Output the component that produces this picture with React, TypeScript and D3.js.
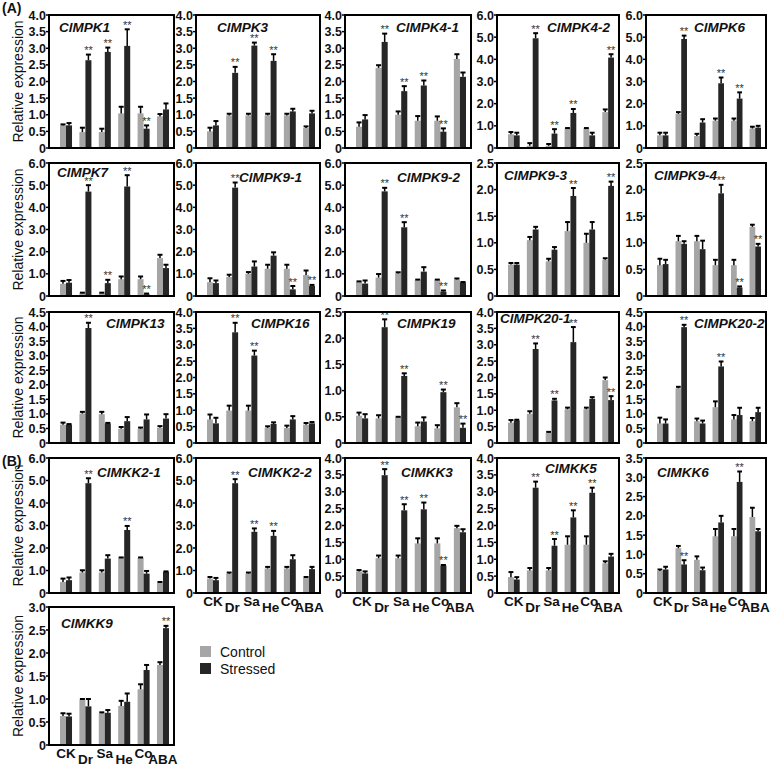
import React from "react";
import * as d3 from "d3";

const categories = ["CK", "Dr", "Sa", "He", "Co", "ABA"];

const geneNames = [
  "ClMPK1", "ClMPK3", "ClMPK4-1", "ClMPK4-2", "ClMPK6",
  "ClMPK7", "ClMPK9-1", "ClMPK9-2", "ClMPK9-3", "ClMPK9-4",
  "ClMPK13", "ClMPK16", "ClMPK19", "ClMPK20-1", "ClMPK20-2",
  "ClMKK2-1", "ClMKK2-2", "ClMKK3", "ClMKK5", "ClMKK6",
  "ClMKK9",
];

const yMaxValues = [4, 4, 4, 6, 6, 6, 6, 6, 2.5, 2.5, 4.5, 4, 2.5, 4, 4.5, 6, 6, 4, 4, 3.5, 3];
const yTickSteps = [0.5, 0.5, 0.5, 1, 1, 1, 1, 1, 0.5, 0.5, 0.5, 0.5, 0.5, 0.5, 0.5, 1, 1, 0.5, 0.5, 0.5, 0.5];

const controlMeans = [
  [0.68, 0.48, 0.48, 1.04, 1.04, 0.95],
  [0.50, 0.98, 0.98, 0.98, 0.98, 0.60],
  [0.64, 2.41, 1.00, 0.82, 0.82, 2.68],
  [0.62, 0.10, 0.10, 0.88, 0.88, 1.62],
  [0.57, 1.54, 0.54, 1.23, 1.23, 0.88],
  [0.55, 0.12, 0.12, 0.76, 0.76, 1.71],
  [0.62, 0.86, 1.00, 1.23, 1.23, 0.95],
  [0.63, 0.83, 1.02, 0.71, 0.71, 0.74],
  [0.59, 1.05, 0.65, 1.22, 1.00, 0.68],
  [0.58, 1.03, 1.03, 0.58, 0.58, 1.30],
  [0.63, 1.01, 0.99, 0.49, 0.49, 0.52],
  [0.72, 0.99, 0.99, 0.46, 0.46, 0.56],
  [0.52, 0.47, 0.49, 0.32, 0.28, 0.68],
  [0.62, 0.89, 0.31, 1.03, 1.03, 1.92],
  [0.67, 1.88, 0.75, 1.23, 0.81, 0.75],
  [0.49, 0.91, 0.91, 1.56, 1.56, 0.45],
  [0.64, 0.86, 0.86, 1.09, 1.09, 0.67],
  [0.64, 1.03, 1.03, 1.47, 1.47, 1.92],
  [0.47, 0.67, 0.67, 1.43, 1.43, 0.88],
  [0.57, 1.16, 0.86, 1.47, 1.47, 1.97],
  [0.63, 0.98, 0.69, 0.85, 1.21, 1.74],
];

const controlErr = [
  [0.03, 0.13, 0.10, 0.20, 0.20, 0.07],
  [0.11, 0.05, 0.05, 0.05, 0.05, 0.05],
  [0.13, 0.08, 0.10, 0.14, 0.13, 0.14],
  [0.10, 0.12, 0.08, 0.02, 0.02, 0.12],
  [0.12, 0.08, 0.10, 0.10, 0.10, 0.08],
  [0.13, 0.03, 0.03, 0.12, 0.12, 0.15],
  [0.18, 0.10, 0.08, 0.18, 0.18, 0.20],
  [0.03, 0.16, 0.05, 0.03, 0.03, 0.05],
  [0.03, 0.06, 0.05, 0.17, 0.17, 0.03],
  [0.12, 0.10, 0.10, 0.10, 0.10, 0.04],
  [0.07, 0.06, 0.08, 0.06, 0.04, 0.06],
  [0.15, 0.15, 0.15, 0.05, 0.07, 0.05],
  [0.06, 0.06, 0.01, 0.07, 0.06, 0.08],
  [0.08, 0.08, 0.03, 0.05, 0.05, 0.08],
  [0.20, 0.05, 0.09, 0.20, 0.15, 0.11],
  [0.15, 0.10, 0.10, 0.02, 0.02, 0.04],
  [0.07, 0.05, 0.05, 0.07, 0.07, 0.04],
  [0.04, 0.08, 0.08, 0.15, 0.15, 0.07],
  [0.15, 0.07, 0.07, 0.25, 0.25, 0.06],
  [0.04, 0.06, 0.09, 0.19, 0.19, 0.24],
  [0.06, 0.02, 0.02, 0.11, 0.11, 0.06],
];

const stressedMeans = [
  [0.68, 2.64, 2.89, 3.07, 0.58, 1.16],
  [0.68, 2.26, 3.08, 2.62, 1.10, 1.04],
  [0.86, 3.19, 1.71, 1.88, 0.49, 2.14],
  [0.57, 4.95, 0.65, 1.58, 0.57, 4.08],
  [0.57, 4.92, 1.15, 2.92, 2.23, 0.92],
  [0.60, 4.71, 0.58, 4.94, 0.08, 1.26],
  [0.58, 4.89, 1.33, 1.82, 0.30, 0.45],
  [0.56, 4.72, 3.10, 1.10, 0.20, 0.61],
  [0.59, 1.25, 0.87, 1.88, 1.25, 2.07],
  [0.60, 0.98, 0.88, 1.93, 0.16, 0.93],
  [0.63, 3.95, 0.67, 0.75, 0.81, 0.84],
  [0.60, 3.38, 2.67, 0.58, 0.72, 0.60],
  [0.47, 2.21, 1.28, 0.41, 0.97, 0.29],
  [0.69, 2.87, 1.30, 3.08, 1.35, 1.31],
  [0.67, 3.98, 0.67, 2.63, 0.96, 1.06],
  [0.57, 4.88, 1.53, 2.80, 0.86, 0.94],
  [0.57, 4.88, 2.72, 2.54, 1.50, 1.06],
  [0.58, 3.49, 2.45, 2.48, 0.81, 1.80],
  [0.40, 3.12, 1.40, 2.24, 2.97, 1.08],
  [0.61, 0.74, 0.59, 1.83, 2.88, 1.60],
  [0.62, 0.84, 0.70, 0.94, 1.63, 2.54],
];

const stressedErr = [
  [0.07, 0.17, 0.13, 0.50, 0.10, 0.18],
  [0.13, 0.18, 0.09, 0.20, 0.08, 0.08],
  [0.13, 0.25, 0.15, 0.15, 0.10, 0.13],
  [0.12, 0.23, 0.20, 0.18, 0.12, 0.15],
  [0.12, 0.15, 0.15, 0.26, 0.28, 0.08],
  [0.12, 0.29, 0.15, 0.51, 0.03, 0.15],
  [0.12, 0.23, 0.23, 0.15, 0.15, 0.05],
  [0.14, 0.16, 0.23, 0.20, 0.05, 0.02],
  [0.03, 0.05, 0.05, 0.15, 0.14, 0.08],
  [0.08, 0.05, 0.16, 0.16, 0.02, 0.05],
  [0.02, 0.18, 0.02, 0.14, 0.17, 0.15],
  [0.17, 0.29, 0.15, 0.05, 0.10, 0.04],
  [0.08, 0.15, 0.05, 0.08, 0.05, 0.08],
  [0.02, 0.17, 0.05, 0.46, 0.05, 0.12],
  [0.14, 0.08, 0.10, 0.17, 0.25, 0.15],
  [0.12, 0.22, 0.15, 0.18, 0.12, 0.02],
  [0.10, 0.18, 0.15, 0.22, 0.18, 0.10],
  [0.06, 0.18, 0.18, 0.20, 0.02, 0.09],
  [0.07, 0.18, 0.20, 0.21, 0.15, 0.08],
  [0.07, 0.11, 0.07, 0.17, 0.27, 0.06],
  [0.06, 0.16, 0.06, 0.18, 0.11, 0.05],
];

const significant = [
  [0, 1, 1, 1, 1, 0],
  [0, 1, 1, 1, 0, 0],
  [0, 1, 1, 1, 1, 0],
  [0, 1, 1, 1, 0, 1],
  [0, 1, 0, 1, 1, 0],
  [0, 1, 1, 1, 1, 0],
  [0, 1, 0, 0, 1, 1],
  [0, 1, 1, 0, 1, 0],
  [0, 0, 0, 1, 0, 1],
  [0, 0, 0, 1, 1, 1],
  [0, 1, 0, 0, 0, 0],
  [0, 1, 1, 0, 0, 0],
  [0, 1, 1, 0, 1, 1],
  [0, 1, 1, 1, 0, 1],
  [0, 1, 0, 1, 0, 0],
  [0, 1, 0, 1, 0, 0],
  [0, 1, 1, 1, 0, 0],
  [0, 1, 1, 1, 1, 0],
  [0, 1, 1, 1, 1, 0],
  [0, 1, 0, 0, 1, 0],
  [0, 0, 0, 0, 0, 1],
];

const seriesNames = ["Control", "Stressed"];

// ---- layout (positions only) ----
const rowTop = [15, 163, 312, 458, 607];
const rowBottom = [148, 296, 443, 593, 745];
const colLeft = [49, 196, 345, 497, 646];
const colRight = [174, 320, 471, 619, 766];
const titleOffset: [number, number][] = [
  [10, 17], [21, 17], [51, 17], [50, 17], [48, 17],
  [8, 14], [43, 19], [52, 19], [7, 17], [8, 17],
  [57, 16], [55, 16], [52, 16], [3, 11], [48, 16],
  [48, 19], [52, 19], [56, 19], [48, 15], [11, 19],
  [12, 21],
];
const xLabelPanels = [16, 17, 18, 19, 20];

const FONT = "'Liberation Sans', Arial, sans-serif";
const GRAY = "#a6a6a6";
const DARK = "#262626";

function Panel({ i }: { i: number }) {
  const row = Math.floor(i / 5);
  const col = i % 5;
  const left = colLeft[col];
  const right = colRight[col];
  const top = rowTop[row];
  const bottom = rowBottom[row];
  const yMax = yMaxValues[i];
  const step = yTickSteps[i];
  const y = d3.scaleLinear().domain([0, yMax]).range([bottom, top]);
  const x = d3
    .scaleBand<string>()
    .domain(categories)
    .range([left + 11, right - 5])
    .paddingInner(0.38)
    .paddingOuter(0);
  const bw = x.bandwidth() / 2;
  const ticks = d3.range(0, yMax + step / 2, step);
  const fmt = (v: number) => (v === 0 ? "0" : d3.format(".1f")(v));

  const bars: React.ReactNode[] = [];
  categories.forEach((c, j) => {
    const x0 = x(c)!;
    const series = [
      { m: controlMeans[i][j], e: controlErr[i][j], fill: GRAY, bx: x0 },
      { m: stressedMeans[i][j], e: stressedErr[i][j], fill: DARK, bx: x0 + bw },
    ];
    series.forEach((s, k) => {
      const yt = y(s.m);
      const ye = y(s.m + s.e);
      const cx = s.bx + bw / 2;
      bars.push(
        <g key={`${j}-${k}`}>
          <rect x={s.bx} y={yt} width={bw} height={bottom - yt} fill={s.fill} />
          <line x1={cx} x2={cx} y1={yt} y2={ye} stroke="#000" strokeWidth={1.5} />
          <line x1={cx - bw / 2 + 0.5} x2={cx + bw / 2 - 0.5} y1={ye} y2={ye} stroke="#000" strokeWidth={2} />
        </g>
      );
      if (k === 1 && significant[i][j]) {
        bars.push(
          <text
            key={`s${j}`}
            x={cx}
            y={ye - 0.5}
            textAnchor="middle"
            fontSize={11}
            fill="#333"
            fontFamily={FONT}
          >
            **
          </text>
        );
      }
    });
  });

  return (
    <g>
      {bars}
      {ticks.map((t) => (
        <g key={t}>
          <line x1={left - 3} x2={left} y1={y(t)} y2={y(t)} stroke="#000" strokeWidth={1.5} />
          <text
            x={left - 3}
            y={y(t)}
            dy="0.36em"
            textAnchor="end"
            fontSize={12.5}
            fontWeight="bold"
            fontFamily={FONT}
            fill="#111"
          >
            {fmt(t)}
          </text>
        </g>
      ))}
      <rect
        x={left}
        y={top}
        width={right - left}
        height={bottom - top}
        fill="none"
        stroke="#000"
        strokeWidth={2}
      />
      <text
        x={left + titleOffset[i][0]}
        y={top + titleOffset[i][1]}
        fontSize={13.5}
        fontWeight="bold"
        fontStyle="italic"
        fontFamily={FONT}
        fill="#111"
      >
        {geneNames[i]}
      </text>
      {col === 0 && (
        <text
          transform={`translate(23,${(top + bottom) / 2}) rotate(-90)`}
          textAnchor="middle"
          fontSize={14}
          fontFamily={FONT}
          fill="#111"
        >
          Relative expression
        </text>
      )}
      {xLabelPanels.includes(i) &&
        categories.map((c, j) => (
          <text
            key={c}
            x={x(c)! + x.bandwidth() / 2}
            y={bottom + (j % 2 === 0 ? 13 : 19)}
            textAnchor="middle"
            fontSize={13.5}
            fontWeight="bold"
            fontFamily={FONT}
            fill="#111"
          >
            {c}
          </text>
        ))}
    </g>
  );
}

export default function App() {
  return (
    <svg
      width={778}
      height={766}
      style={{ position: "absolute", left: 0, top: 0, background: "#fff" }}
    >
      <rect width={778} height={766} fill="#fff" />
      <text x={2} y={13} fontSize={14} fontWeight="bold" fontFamily={FONT} fill="#111">
        (A)
      </text>
      <text x={2} y={466} fontSize={14} fontWeight="bold" fontFamily={FONT} fill="#111">
        (B)
      </text>
      {geneNames.map((_, i) => (
        <Panel key={i} i={i} />
      ))}
      {seriesNames.map((s, k) => (
        <g key={s}>
          <rect x={200} y={646 + k * 17} width={11} height={11} fill={k === 0 ? GRAY : DARK} />
          <text x={220} y={657 + k * 17} fontSize={14} fontFamily={FONT} fill="#111">
            {s}
          </text>
        </g>
      ))}
    </svg>
  );
}
